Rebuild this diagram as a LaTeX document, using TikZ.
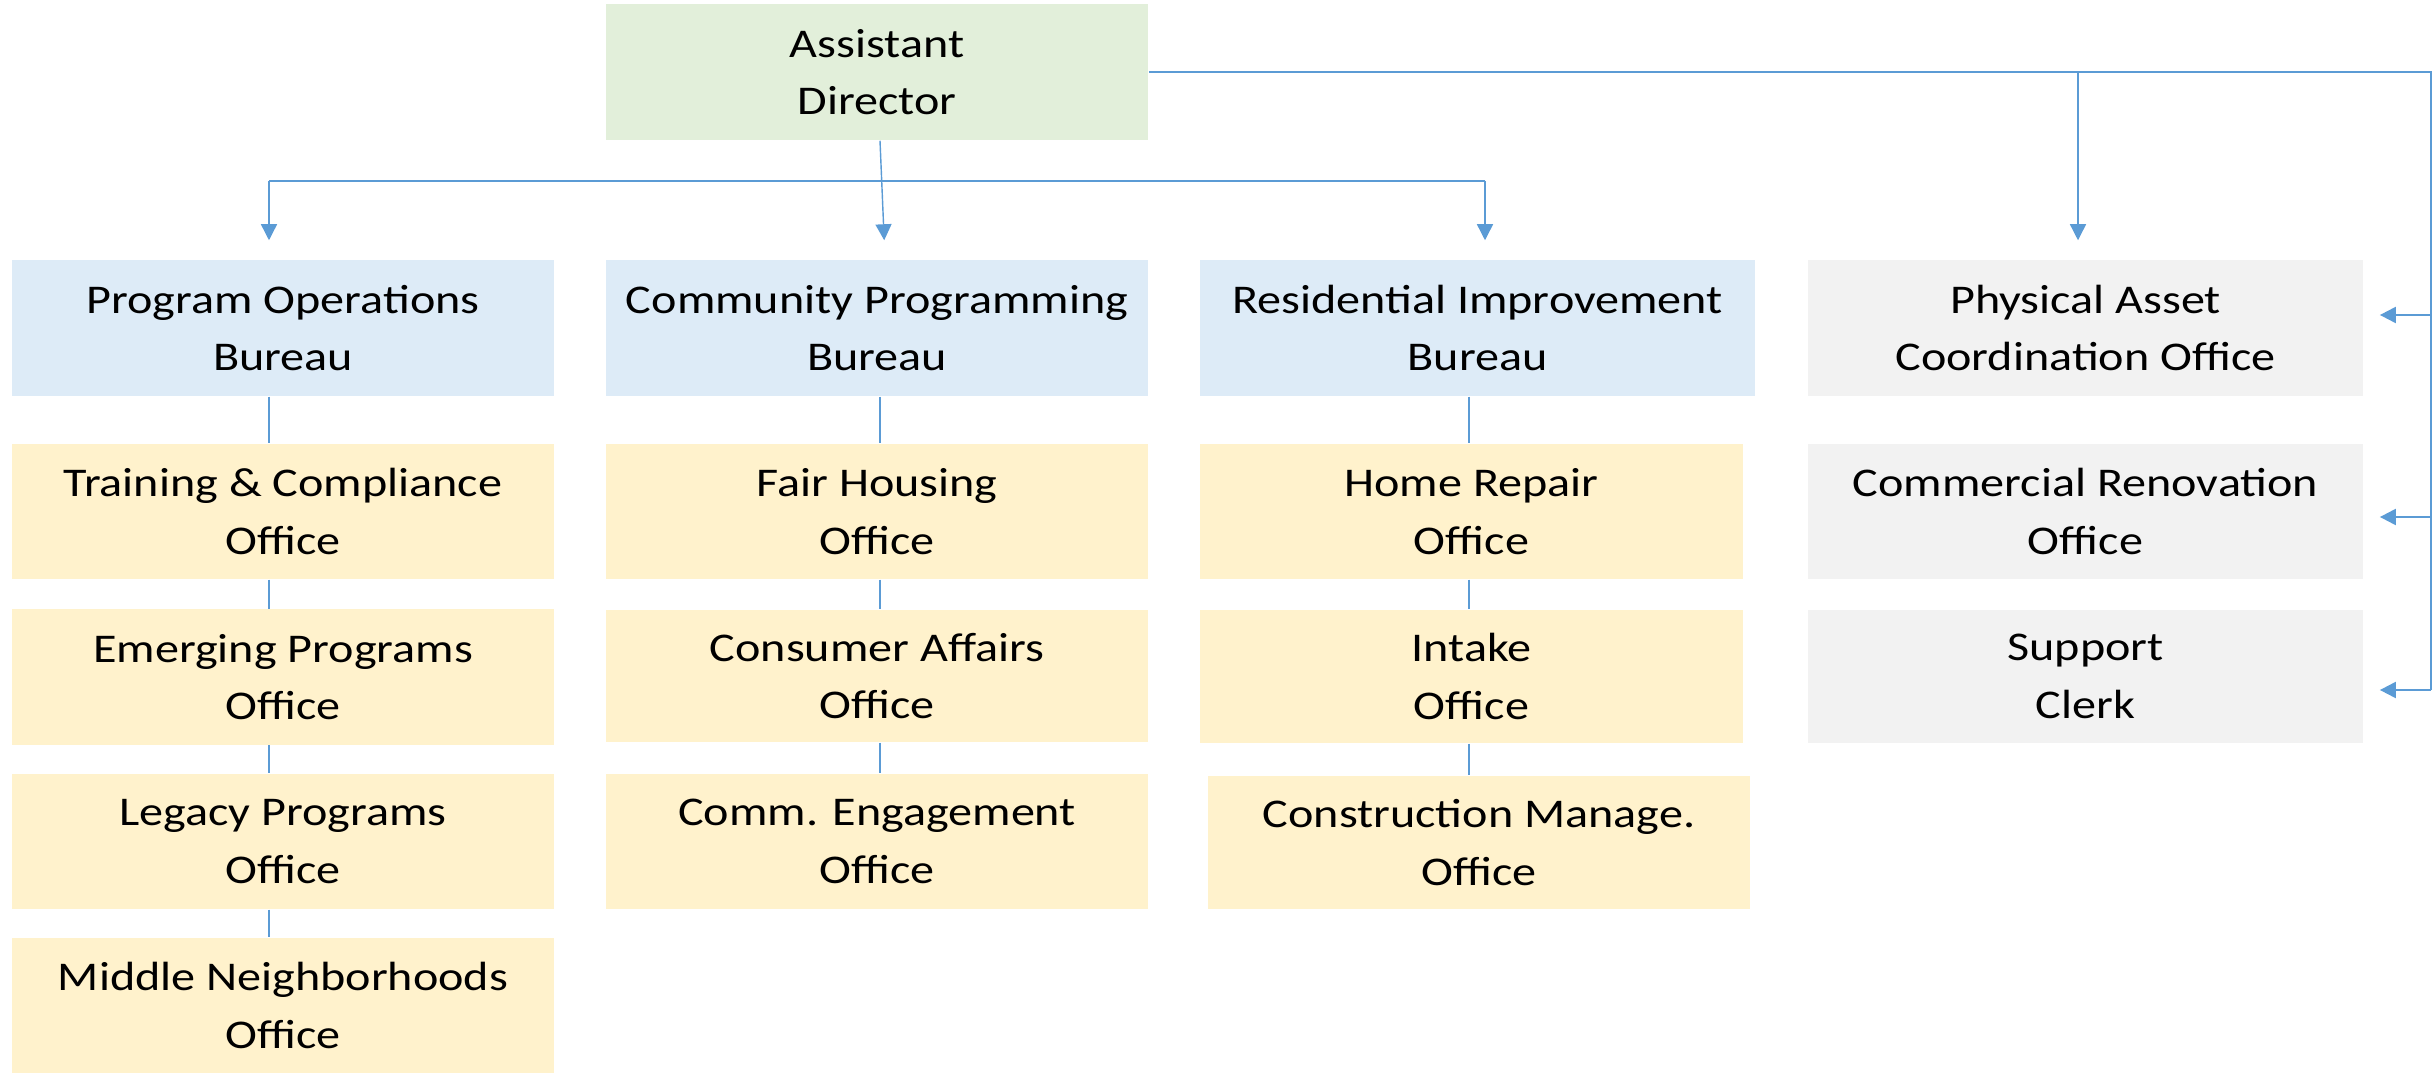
\documentclass[tikz,border=0pt]{standalone}
\usepackage{fontspec}
\setmainfont[FakeStretch=1.18]{Carlito}
\usetikzlibrary{arrows.meta,calc}
\definecolor{cgreen}{HTML}{E2EFDA}
\definecolor{cblue}{HTML}{DDEBF7}
\definecolor{cyellow}{HTML}{FFF2CC}
\definecolor{cgray}{HTML}{F2F2F2}
\definecolor{cline}{HTML}{5B9BD5}
\begin{document}
\begin{tikzpicture}[x=0.01cm,y=-0.01cm,
  box/.style={draw=none,inner sep=0pt,align=center,font=\fontsize{11.6}{16.4}\selectfont,text=black},
  wide/.style={minimum width=5.42cm},
  wider/.style={minimum width=5.55cm},
  tall/.style={minimum height=1.35cm},
  green/.style={box,fill=cgreen,minimum height=1.36cm},
  blue/.style={box,fill=cblue,minimum height=1.36cm},
  yellow/.style={box,fill=cyellow,tall},
  gray/.style={box,fill=cgray,tall},
  conn/.style={draw=cline,line width=0.6pt},
  thinconn/.style={draw=cline,line width=0.35pt},
  arr/.style={conn,-{Triangle[length=0.16cm,width=0.16cm]}},
  varr/.style={draw=cline,line width=0.4pt,-{Triangle[length=0.16cm,width=0.16cm]},shorten >=0.19cm},
  harr/.style={arr,shorten >=0.16cm}]
\useasboundingbox (0,0) rectangle (2435,1073);
% top
\node[green,wide] (ad) at (877,72) {Assistant\\Director};
% bureaus
\node[blue,wide] (po) at (283,328) {Program Operations\\Bureau};
\node[blue,wide] (cp) at (877,328) {Community Programming\\Bureau};
\node[blue,wider] (ri) at (1477.5,328) {Residential Improvement\\Bureau};
\node[gray,wider,minimum height=1.36cm] (pa) at (2085.5,328) {Physical Asset\\Coordination Office};
% column 1
\node[yellow,wide] (o11) at (283,511.5) {Training \& Compliance\\Office};
\node[yellow,wide] (o12) at (283,677) {Emerging Programs\\Office};
\node[yellow,wide] (o13) at (283,841.5) {Legacy Programs\\Office};
\node[yellow,wide] (o14) at (283,1005.5) {Middle Neighborhoods\\Office};
% column 2
\node[yellow,wide] (o21) at (877,511.5) {Fair Housing\\Office};
\node[yellow,wide,minimum height=1.32cm] (o22) at (877,676) {Consumer Affairs\\Office};
\node[yellow,wide] (o23) at (877,841.5) {Comm. Engagement\\Office};
% column 3
\node[yellow,minimum width=5.43cm] (o31) at (1471.5,511.5) {Home Repair\\Office};
\node[yellow,minimum width=5.43cm,minimum height=1.33cm] (o32) at (1471.5,676.5) {Intake\\Office};
\node[yellow,wide,minimum height=1.33cm] (o33) at (1479,842.5) {Construction Manage.\\Office};
% column 4
\node[gray,wider] (o41) at (2085.5,511.5) {Commercial Renovation\\Office};
\node[gray,wider,minimum height=1.33cm] (o42) at (2085.5,676.5) {Support\\Clerk};
% coordinates
\coordinate (c1) at (269,0);
\coordinate (c2) at (880,0);
\coordinate (c3) at (1469,0);
\coordinate (h1) at (269,181);
\coordinate (h3) at (1485,181);
\coordinate (tr) at (2431,72);
\coordinate (t4) at (2078,72);
\coordinate (a1) at (2431,315);
\coordinate (a2) at (2431,517);
\coordinate (a3) at (2431,690);
% connectors from director
\draw[conn] (h1) -- (h3);
\draw[varr] (h1) -- (h1 |- po.north);
\draw[varr] (h3) -- (h3 |- ri.north);
\draw[varr] ([xshift=0.03cm]ad.south) -- ([xshift=0.08cm]cp.north);
\draw[conn] (ad.east) -- (tr) -- (a3);
\draw[varr] (t4) -- (t4 |- pa.north);
\draw[harr] (a1) -- (a1 -| pa.east);
\draw[harr] (a2) -- (a2 -| o41.east);
\draw[harr] (a3) -- (a3 -| o42.east);
% column connectors
\draw[thinconn] (po.south -| c1) -- (o11.north -| c1);
\draw[thinconn] (o11.south -| c1) -- (o12.north -| c1);
\draw[thinconn] (o12.south -| c1) -- (o13.north -| c1);
\draw[thinconn] (o13.south -| c1) -- (o14.north -| c1);
\draw[thinconn] (cp.south -| c2) -- (o21.north -| c2);
\draw[thinconn] (o21.south -| c2) -- (o22.north -| c2);
\draw[thinconn] (o22.south -| c2) -- (o23.north -| c2);
\draw[thinconn] (ri.south -| c3) -- (o31.north -| c3);
\draw[thinconn] (o31.south -| c3) -- (o32.north -| c3);
\draw[thinconn] (o32.south -| c3) -- (o33.north -| c3);
\end{tikzpicture}
\end{document}
